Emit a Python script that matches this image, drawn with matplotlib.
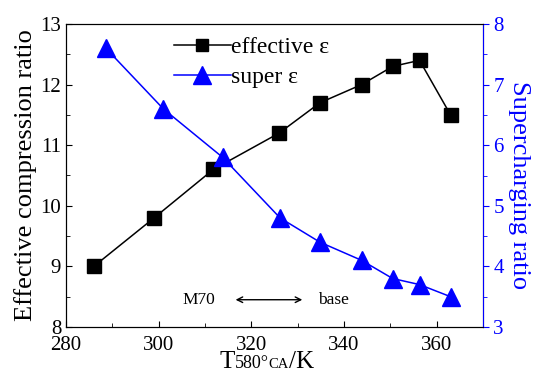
import matplotlib
matplotlib.use("Agg")
import matplotlib.pyplot as plt
from matplotlib.ticker import MultipleLocator

plt.rcParams['font.family'] = ['Liberation Serif', 'DejaVu Serif']

# Data
t_eff = [286, 299, 311.8, 326, 334.8, 343.8, 350.5, 356.3, 363]
eff_ratio = [9.0, 9.8, 10.6, 11.2, 11.7, 12.0, 12.3, 12.4, 11.5]
t_sup = [288.6, 301, 313.8, 326.2, 334.8, 343.8, 350.5, 356.3, 363]
sup_ratio = [7.6, 6.6, 5.8, 4.8, 4.4, 4.1, 3.8, 3.7, 3.5]

fig = plt.figure(figsize=(5.34, 3.74), dpi=100)
ax = fig.add_axes([66/534, 1-327/374, (483-66)/534, (327-24)/374])
ax2 = ax.twinx()

l1, = ax.plot(t_eff, eff_ratio, color='black', marker='s', markersize=9.5,
              lw=1.1, label='effective ε')
l2, = ax2.plot(t_sup, sup_ratio, color='blue', marker='^', markersize=13,
               lw=1.1, label='super ε')

ax.set_xlim(280, 370)
ax.set_ylim(8, 13)
ax2.set_ylim(3, 8)
ax.xaxis.set_major_locator(MultipleLocator(20))
ax.xaxis.set_minor_locator(MultipleLocator(10))
ax.yaxis.set_major_locator(MultipleLocator(1))
ax.yaxis.set_minor_locator(MultipleLocator(0.5))
ax2.yaxis.set_major_locator(MultipleLocator(1))
ax2.yaxis.set_minor_locator(MultipleLocator(0.5))

ax.tick_params(axis='both', which='both', direction='in', labelsize=15, top=False)
ax.tick_params(which='major', length=4)
ax.tick_params(which='minor', length=3)
ax.tick_params(axis='x', which='both', pad=6.5)
ax2.tick_params(axis='y', which='both', direction='out', colors='blue', labelsize=15)
ax2.tick_params(which='major', length=4)
ax2.tick_params(which='minor', length=3)
ax2.spines['right'].set_color('blue')

ax.set_ylabel('Effective compression ratio', fontsize=19, labelpad=2)
ax2.set_ylabel('Supercharging ratio', fontsize=19, color='blue', rotation=270, labelpad=20)
ax2.yaxis.set_label_coords(1.113, 0.47)

# annotation
yy = 8.45
ax.text(308.7, yy, 'M70', fontsize=12.5, ha='center', va='center')
ax.annotate('', xy=(316.0, yy), xytext=(331.6, yy),
            arrowprops=dict(arrowstyle='<->', color='black', lw=1.0))
ax.text(334.3, yy, 'base', fontsize=12.5, ha='left', va='center')

leg = ax.legend(handles=[l1, l2], loc='upper left', bbox_to_anchor=(0.236, 0.99),
                frameon=False, fontsize=17, handlelength=2.4, handletextpad=0.0,
                borderaxespad=0.0, labelspacing=0.36)
leg.legend_handles[0].set_markersize(9)

# x label: "T" + small "580°" + smaller "CA" + "/K", on a shared baseline
base_y = 5.5 / 374
parts = [('T', 18), ('580°', 13), ('CA', 10.5), ('/K', 18)]
x = 219 / 534
renderer = fig.canvas.get_renderer()
for s, fs in parts:
    t = fig.text(x, base_y, s, fontsize=fs, ha='left', va='baseline')
    bb = t.get_window_extent(renderer=renderer)
    x = bb.x1 / fig.bbox.width

fig.savefig('out.png', dpi=100)
